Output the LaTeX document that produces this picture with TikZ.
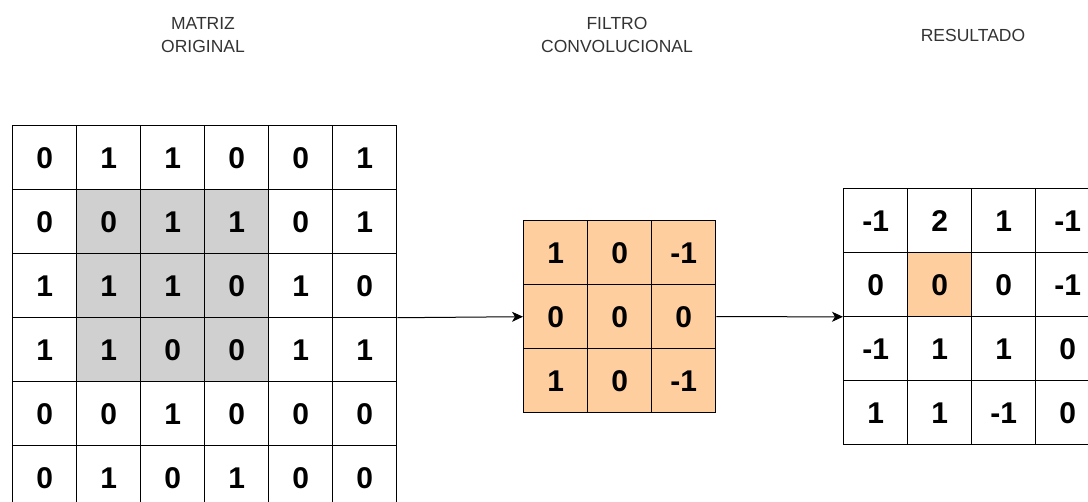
\documentclass[tikz,border=0pt]{standalone}
\usepackage{fontspec}
\setmainfont{Liberation Sans}
\usetikzlibrary{arrows.meta,positioning,matrix}
\definecolor{ink}{HTML}{000000}
\definecolor{titlegray}{HTML}{333333}
\definecolor{windowgray}{HTML}{D0D0D0}
\definecolor{peach}{HTML}{FFCE9F}
\tikzset{
  cell/.style={draw=ink, line width=1pt, minimum size=64pt, inner sep=0pt, font=\bfseries\fontsize{30}{30}\selectfont},
  numgrid/.style={matrix of nodes, inner sep=0pt, column sep=-1pt, row sep=-1pt, nodes={cell}},
  win/.style={fill=windowgray},
  hit/.style={fill=peach},
  header/.style={font=\fontsize{17.5}{23}\selectfont, text=titlegray, align=center},
  arrow/.style={-{Stealth[length=11pt,width=10pt,inset=3pt]}, line width=1pt, draw=ink},
}

\begin{document}
\begin{tikzpicture}[x=1pt,y=1pt]
\useasboundingbox (0,0) rectangle (1088,-502);
\clip (0,0) rectangle (1088,-502);
% headers
\node[header] (origtitle) at (203,-35) {MATRIZ\\ORIGINAL};
\node[header] (filttitle) at (617,-35) {FILTRO\\CONVOLUCIONAL};
\node[header] (restitle) at (973,-35) {RESULTADO};
% input matrix, 3x3 window shaded
\matrix (orig) [numgrid, anchor=north west] at (12,-125) {
0 & 1 & 1 & 0 & 0 & 1 \\
0 & |[win]| 0 & |[win]| 1 & |[win]| 1 & 0 & 1 \\
1 & |[win]| 1 & |[win]| 1 & |[win]| 0 & 1 & 0 \\
1 & |[win]| 1 & |[win]| 0 & |[win]| 0 & 1 & 1 \\
0 & 0 & 1 & 0 & 0 & 0 \\
0 & 1 & 0 & 1 & 0 & 0 \\
};
% kernel
\matrix (filt) [numgrid, nodes={hit}, anchor=north west] at (523,-220) {
1 & 0 & -1 \\
0 & 0 & 0 \\
1 & 0 & -1 \\
};
% output map
\matrix (res) [numgrid, anchor=north west] at (843,-188) {
-1 & 2 & 1 & -1 \\
0 & |[hit]| 0 & 0 & -1 \\
-1 & 1 & 1 & 0 \\
1 & 1 & -1 & 0 \\
};
\draw[arrow] (orig.east) -- (filt.west);
\draw[arrow] (filt.east) -- (res.west);
\end{tikzpicture}
\end{document}
